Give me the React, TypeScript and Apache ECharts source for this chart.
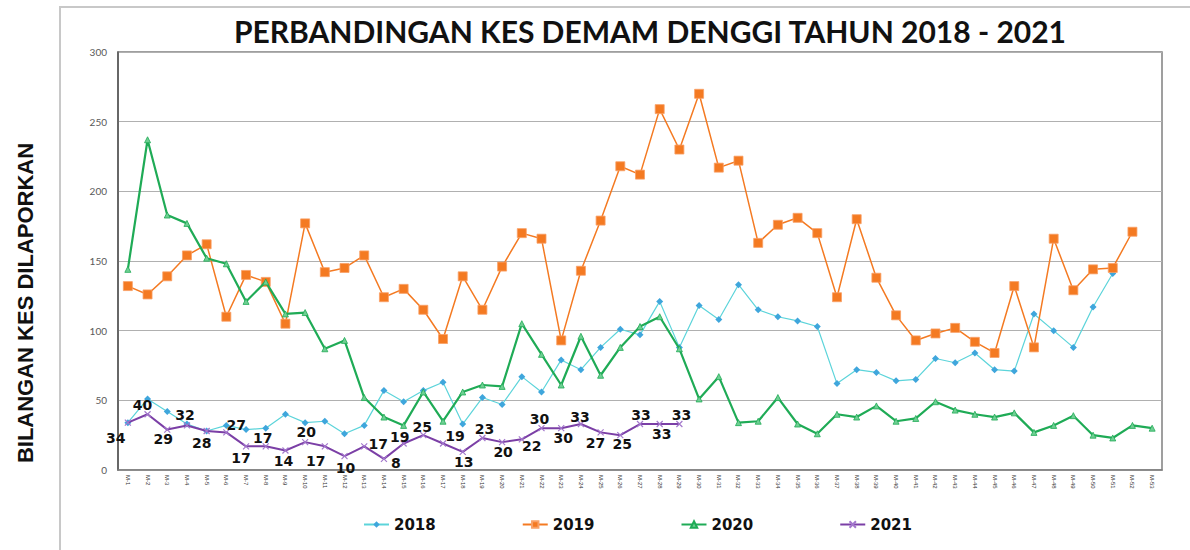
import React, { useEffect, useRef } from "react";
import * as echarts from "echarts";

const CATEGORIES: string[] = Array.from({ length: 53 }, (_, i) => `M-${i + 1}`);

const S2018: number[] = [
  34, 51, 42, 33, 28, 32, 29, 30, 40, 34,
  35, 26, 32, 57, 49, 57, 63, 33, 52, 47,
  67, 56, 79, 72, 88, 101, 97, 121, 88, 118,
  108, 133, 115, 110, 107, 103, 62, 72, 70, 64,
  65, 80, 77, 84, 72, 71, 112, 100, 88, 117, 141,
];

const S2019: number[] = [
  132, 126, 139, 154, 162, 110, 140, 135, 105, 177,
  142, 145, 154, 124, 130, 115, 94, 139, 115, 146,
  170, 166, 93, 143, 179, 218, 212, 259, 230, 270,
  217, 222, 163, 176, 181, 170, 124, 180, 138, 111,
  93, 98, 102, 92, 84, 132, 88, 166, 129, 144, 145, 171,
];

const S2020: number[] = [
  144, 237, 183, 177, 152, 148, 121, 135, 112, 113,
  87, 93, 52, 38, 32, 56, 35, 56, 61, 60,
  105, 83, 61, 96, 68, 88, 103, 110, 87, 51,
  67, 34, 35, 52, 33, 26, 40, 38, 46, 35,
  37, 49, 43, 40, 38, 41, 27, 32, 39, 25, 23, 32, 30,
];

const S2021: number[] = [
  34, 40, 29, 32, 28, 27, 17, 17, 14, 20,
  17, 10, 17, 8, 19, 25, 19, 13, 23, 20,
  22, 30, 30, 33, 27, 25, 33, 33, 33,
];

const Y_TICKS = { min: 0, max: 300, interval: 50 };

// label placement (pixel offsets from the point) for the 2021 data labels
const LABEL_OFFSETS_2021: [number, number][] = [
  [-12, 15], [-5, -9], [-4, 9], [-2, -10], [-5, 12], [10, -7], [-5, 12], [-3, -8], [-2, 11], [1, -10],
  [-9, 15], [1, 12], [14, -2], [12, 4], [-4, -7], [-1, -8], [12, -8], [1, 10], [2, -9], [1, 10],
  [10, 7], [-2, -9], [2, 10], [-1, -7], [-5, 11], [2, 9], [1, -9], [2, 10], [2, -9],
];

const CROSS = "path://M0,0L10,10M10,0L0,10";

export default function App() {
  const ref = useRef<HTMLDivElement | null>(null);

  useEffect(() => {
    if (!ref.current) return;
    const chart = echarts.init(ref.current, undefined, { renderer: "svg" });

    const data2021 = S2021.map((v, i) => ({
      value: v,
      label: {
        show: true,
        position: "inside",
        offset: LABEL_OFFSETS_2021[i],
      },
    }));

    chart.setOption({
      animation: false,
      backgroundColor: "#ffffff",
      title: {
        text: "PERBANDINGAN KES DEMAM DENGGI TAHUN 2018 - 2021",
        left: 645,
        textAlign: "center",
        top: 11,
        textStyle: {
          fontFamily: "Lato",
          fontWeight: "bold",
          fontSize: 30,
          color: "#111111",
        },
      },
      graphic: [
        {
          type: "rect",
          shape: { x: 60, y: 7, width: 1200, height: 700 },
          style: { fill: "none", stroke: "#c8c8c8", lineWidth: 2 },
          silent: true,
          z: -1,
        },
        {
          type: "text",
          x: 25,
          y: 303,
          rotation: Math.PI / 2,
          style: {
            text: "BILANGAN KES DILAPORKAN",
            fontFamily: "Liberation Sans",
            fontWeight: "bold",
            fontSize: 22,
            fill: "#111111",
            align: "center",
            verticalAlign: "middle",
          },
        },
      ],
      legend: {
        left: 358,
        top: 512,
        itemGap: 86,
        itemWidth: 25,
        itemHeight: 8,
        textStyle: {
          fontFamily: "DejaVu Sans",
          fontWeight: "bold",
          fontSize: 15,
          color: "#111111",
        },
        data: ["2018", "2019", "2020", "2021"],
      },
      grid: {
        left: 118,
        right: 28,
        top: 52,
        bottom: 80,
        show: true,
        borderColor: "#808080",
        borderWidth: 1.5,
      },
      xAxis: {
        type: "category",
        data: CATEGORIES,
        boundaryGap: true,
        axisLine: { show: true, lineStyle: { color: "#808080", width: 1.5 } },
        axisTick: { show: false },
        axisLabel: {
          interval: 0,
          rotate: -90,
          fontSize: 6,
          margin: 5,
          color: "#333333",
          fontFamily: "Liberation Sans",
        },
      },
      yAxis: {
        type: "value",
        min: Y_TICKS.min,
        max: Y_TICKS.max,
        interval: Y_TICKS.interval,
        axisLine: { show: true, lineStyle: { color: "#555555", width: 1.5 } },
        axisTick: { show: false },
        axisLabel: {
          fontSize: 10,
          margin: 11,
          color: "#595959",
          fontFamily: "Lato",
        },
        splitLine: { lineStyle: { color: "#b0b0b0", width: 1.2 } },
      },
      series: [
        {
          name: "2018",
          type: "line",
          data: S2018,
          symbol: "diamond",
          symbolSize: 7,
          lineStyle: { color: "#5cd4da", width: 1.2 },
          itemStyle: { color: "#3fa6dc" },
          z: 2,
        },
        {
          name: "2019",
          type: "line",
          data: S2019,
          symbol: "rect",
          symbolSize: 9,
          lineStyle: { color: "#f47a22", width: 1.5 },
          itemStyle: { color: "#f47a22", borderColor: "#f9a066", borderWidth: 0.8 },
          z: 3,
        },
        {
          name: "2020",
          type: "line",
          data: S2020,
          symbol: "triangle",
          symbolSize: 6,
          lineStyle: { color: "#1fab56", width: 2.2 },
          itemStyle: { color: "#6fcf93", borderColor: "#1fab56", borderWidth: 0.8 },
          z: 4,
        },
        {
          name: "2021",
          type: "line",
          data: data2021,
          symbol: CROSS,
          symbolSize: 6,
          lineStyle: { color: "#7b3fa6", width: 2 },
          itemStyle: { color: "#a377cc", borderColor: "#a377cc", borderWidth: 1.2 },
          label: {
            show: true,
            fontFamily: "DejaVu Sans",
            fontWeight: "bold",
            fontSize: 14,
            color: "#111111",
            align: "center",
            verticalAlign: "middle",
          },
          z: 5,
        },
      ],
    });

    return () => {
      chart.dispose();
    };
  }, []);

  return (
    <div
      ref={ref}
      style={{ position: "fixed", left: 0, top: 0, width: 1190, height: 550 }}
    />
  );
}
